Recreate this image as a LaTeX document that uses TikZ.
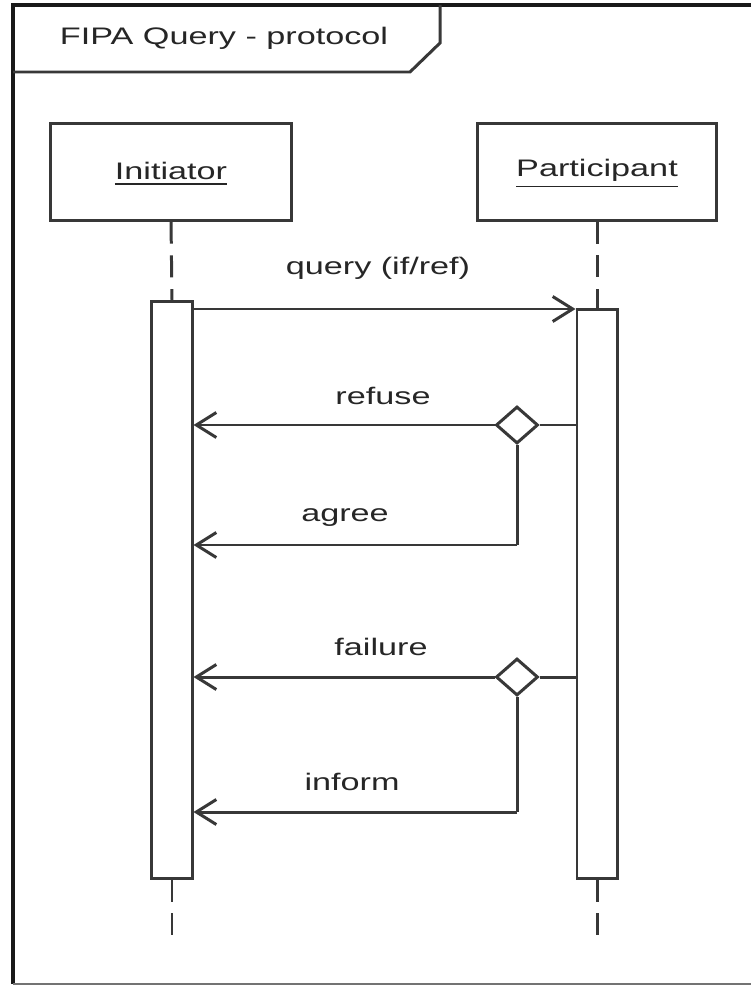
\documentclass[tikz,border=0pt]{standalone}
\usepackage{fontspec}
\setmainfont{Liberation Sans}
\usetikzlibrary{shapes.geometric,arrows.meta,calc}
% wide sans lettering used for every label
\newcommand{\widetxt}[1]{\scalebox{1.43}[1]{#1}}
\tikzset{
  ln/.style={draw=black!78, line width=0.85pt},
  lbl/.style={font=\fontsize{6.8}{8}\selectfont, text=black!85, inner sep=0pt},
  objbox/.style={ln, rectangle, minimum width=2.41cm, minimum height=0.96cm, inner sep=0pt},
  actbar/.style={ln, rectangle, minimum width=0.40cm, inner sep=0pt, fill=white},
  lifeline/.style={ln, dash pattern=on 6.3pt off 3.3pt},
  msg/.style={ln, -{Straight Barb[length=0.2cm, width=0.25cm, line width=0.85pt]}},
  choice/.style={ln, diamond, minimum width=0.42cm, minimum height=0.37cm, inner sep=0pt, fill=white}
}
\begin{document}
\begin{tikzpicture}[x=0.01cm, y=-0.01cm]
  \useasboundingbox (0,0) rectangle (751,985);
  \fill[white] (0,0) rectangle (751,985);

  % outer frame and its name tab
  \draw[ln, line width=1.1pt, draw=black!90] (751,5) -- (13,5) -- (13,984);
  \draw[ln, draw=black!55] (13,984) -- (751,984);
  \draw[ln] (13,72) -- (410,72) -- (440,43) -- (440,5);
  \node[lbl] (title) at (224,38) {\widetxt{FIPA Query - protocol}};

  % lifeline heads
  \node[objbox] (init) at (171,172) {};
  \node[lbl] (initname) at (171,174) {\widetxt{\underline{Initiator}}};
  \node[objbox, minimum width=2.39cm] (part) at (597,172) {};
  \node[lbl] (partname) at (597,174) {\widetxt{\underline{Participant}}};

  % activation bars
  \node[actbar, minimum height=5.76cm] (ibar) at (172,590) {};
  \node[actbar, minimum height=5.68cm] (pbar) at (597,594) {};

  % dashed lifelines
  \coordinate (iend) at (172,935);
  \coordinate (pend) at (597,935);
  \draw[lifeline] (init.south) -- (ibar.north);
  \draw[lifeline] (part.south) -- (pbar.north);
  \draw[lifeline] (ibar.south) -- (iend);
  \draw[lifeline] (pbar.south) -- (pend);

  % query message
  \coordinate (qy) at (0,309);
  \draw[msg] (ibar.east |- qy) -- (pbar.west |- qy);
  \node[lbl] (qlbl) at (378,268) {\widetxt{query (if/ref)}};

  % first decision: refuse / agree
  \node[choice] (d1) at (517,425) {};
  \coordinate (a1) at (517,545);
  \draw[ln] (pbar.west |- d1) -- (d1.east);
  \draw[msg] (d1.west) -- (ibar.east |- d1);
  \draw[ln] (d1.south) -- (a1);
  \draw[msg] (a1) -- (ibar.east |- a1);
  \node[lbl] (refuselbl) at (383,396) {\widetxt{refuse}};
  \node[lbl] (agreelbl) at (345,518) {\widetxt{agree}};

  % second decision: failure / inform
  \node[choice] (d2) at (517,677) {};
  \coordinate (a2) at (517,812);
  \draw[ln] (pbar.west |- d2) -- (d2.east);
  \draw[msg] (d2.west) -- (ibar.east |- d2);
  \draw[ln] (d2.south) -- (a2);
  \draw[msg] (a2) -- (ibar.east |- a2);
  \node[lbl] (failurelbl) at (381,647) {\widetxt{failure}};
  \node[lbl] (informlbl) at (352,782) {\widetxt{inform}};
\end{tikzpicture}
\end{document}
